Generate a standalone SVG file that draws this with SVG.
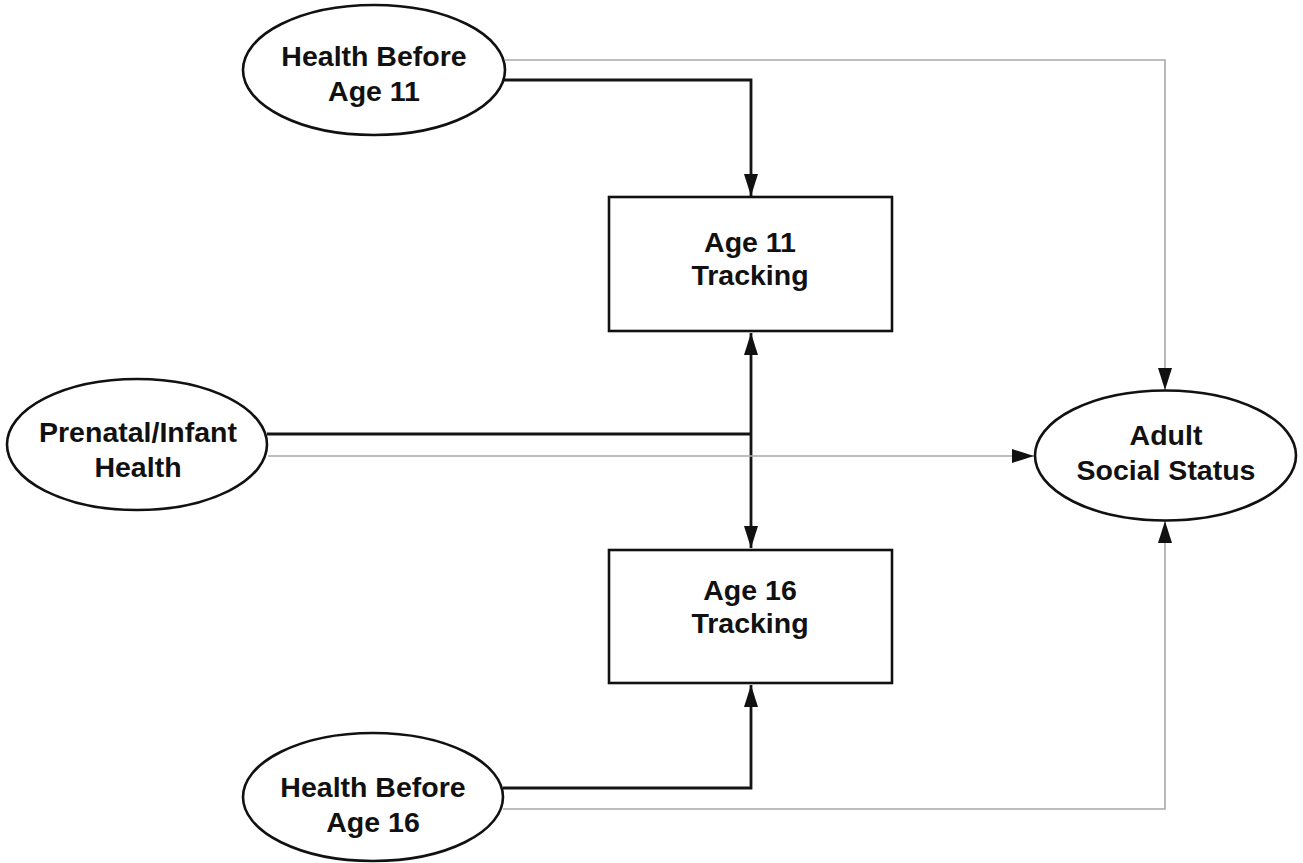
<svg xmlns="http://www.w3.org/2000/svg" width="1303" height="863" viewBox="0 0 1303 863">
<style>
.node{fill:#fff;stroke:#111;stroke-width:2.6}
.lbl{font-family:"Liberation Sans",Arial,Helvetica,sans-serif;font-weight:bold;font-size:28.5px;fill:#111;text-anchor:middle}
.blk{fill:none;stroke:#151515;stroke-width:2.8}
.gry{fill:none;stroke:#a8a8a8;stroke-width:1.6}
</style>
<defs>
<marker id="arr" markerUnits="userSpaceOnUse" markerWidth="22" markerHeight="14" refX="22" refY="7" orient="auto-start-reverse" viewBox="0 0 22 14">
<path d="M0,0 L22,7 L0,14 z" fill="#111"/>
</marker>
</defs>
<rect x="0" y="0" width="1303" height="863" fill="#fff"/>
<g id="connectors">
<path class="gry" d="M505,60 H1165 V390" marker-end="url(#arr)"/>
<path class="blk" d="M503,80 H751 V196" marker-end="url(#arr)"/>
<path class="blk" d="M267,434 H751"/>
<path class="blk" d="M751,333 V548" marker-start="url(#arr)" marker-end="url(#arr)"/>
<path class="gry" d="M268,456 H1034" marker-end="url(#arr)"/>
<path class="blk" d="M503,788 H751 V685" marker-end="url(#arr)"/>
<path class="gry" d="M503,809 H1165 V521" marker-end="url(#arr)"/>
</g>
<g id="health11">
<ellipse class="node" cx="374" cy="70" rx="131" ry="65"/>
<text class="lbl" x="374" y="66">Health Before</text>
<text class="lbl" x="374" y="101">Age 11</text>
</g>
<g id="track11">
<rect class="node" x="609" y="197" width="283" height="134"/>
<text class="lbl" x="750" y="252">Age 11</text>
<text class="lbl" x="750" y="285">Tracking</text>
</g>
<g id="prenatal">
<ellipse class="node" cx="137" cy="444.5" rx="130" ry="65.5"/>
<text class="lbl" x="138" y="442">Prenatal/Infant</text>
<text class="lbl" x="138" y="477">Health</text>
</g>
<g id="adult">
<ellipse class="node" cx="1165.5" cy="455.5" rx="130.5" ry="65"/>
<text class="lbl" x="1166" y="445">Adult</text>
<text class="lbl" x="1166" y="480">Social Status</text>
</g>
<g id="track16">
<rect class="node" x="609" y="550" width="283" height="133"/>
<text class="lbl" x="750" y="600">Age 16</text>
<text class="lbl" x="750" y="633">Tracking</text>
</g>
<g id="health16">
<ellipse class="node" cx="373" cy="797" rx="130" ry="64"/>
<text class="lbl" x="373" y="797">Health Before</text>
<text class="lbl" x="373" y="832">Age 16</text>
</g>
</svg>
